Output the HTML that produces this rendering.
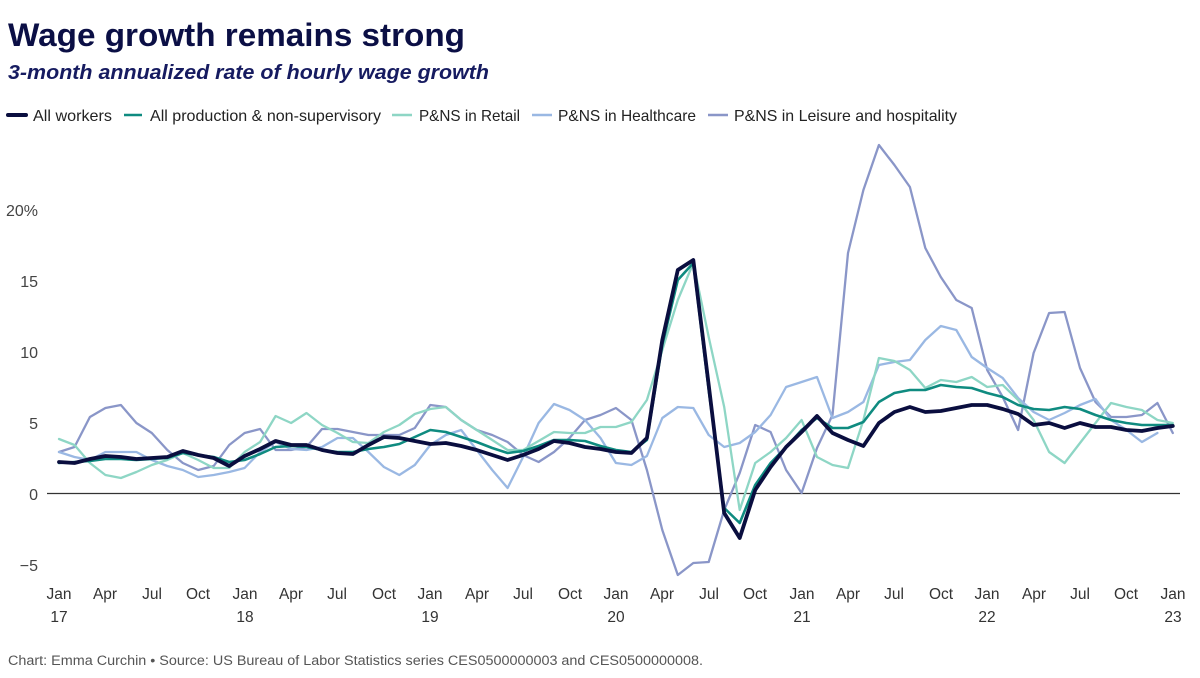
<!DOCTYPE html>
<html><head><meta charset="utf-8"><style>
html,body{margin:0;padding:0;background:#fff;}
svg{display:block;}
text{font-family:"Liberation Sans",Arial,sans-serif;}
</style></head><body>
<svg width="1200" height="678" viewBox="0 0 1200 678" xmlns="http://www.w3.org/2000/svg">
<rect width="1200" height="678" fill="#fff"/>
<text x="8" y="46" font-size="32" font-weight="bold" fill="#0b0f45" textLength="457" lengthAdjust="spacingAndGlyphs">Wage growth remains strong</text>
<text x="8" y="79" font-size="20" font-weight="bold" font-style="italic" fill="#161b60" textLength="481" lengthAdjust="spacingAndGlyphs">3-month annualized rate of hourly wage growth</text>

<g font-size="16" fill="#222">
<line x1="8" y1="115" x2="26" y2="115" stroke="#0a0e3f" stroke-width="4" stroke-linecap="round"/>
<text x="33" y="121" textLength="79" lengthAdjust="spacingAndGlyphs">All workers</text>
<line x1="124" y1="115" x2="142" y2="115" stroke="#0f8b80" stroke-width="2.5"/>
<text x="150" y="121" textLength="231" lengthAdjust="spacingAndGlyphs">All production &amp; non-supervisory</text>
<line x1="392" y1="115" x2="412" y2="115" stroke="#8ed6c5" stroke-width="2.5"/>
<text x="419" y="121" textLength="101" lengthAdjust="spacingAndGlyphs">P&amp;NS in Retail</text>
<line x1="532" y1="115" x2="552" y2="115" stroke="#9ab8e3" stroke-width="2.5"/>
<text x="558" y="121" textLength="138" lengthAdjust="spacingAndGlyphs">P&amp;NS in Healthcare</text>
<line x1="708" y1="115" x2="728" y2="115" stroke="#8a96c8" stroke-width="2.5"/>
<text x="734" y="121" textLength="223" lengthAdjust="spacingAndGlyphs">P&amp;NS in Leisure and hospitality</text>
</g>

<g font-size="16" fill="#444" text-anchor="end">
<text x="38" y="216">20%</text>
<text x="38" y="287">15</text>
<text x="38" y="358">10</text>
<text x="38" y="429">5</text>
<text x="38" y="500">0</text>
<text x="38" y="571">−5</text>
</g>

<line x1="47" y1="493.5" x2="1180" y2="493.5" stroke="#333" stroke-width="1.2"/>

<g font-size="15.5" fill="#333" text-anchor="middle">
<text x="59" y="599">Jan</text><text x="59" y="622">17</text>
<text x="105" y="599">Apr</text>
<text x="152" y="599">Jul</text>
<text x="198" y="599">Oct</text>
<text x="245" y="599">Jan</text><text x="245" y="622">18</text>
<text x="291" y="599">Apr</text>
<text x="337" y="599">Jul</text>
<text x="384" y="599">Oct</text>
<text x="430" y="599">Jan</text><text x="430" y="622">19</text>
<text x="477" y="599">Apr</text>
<text x="523" y="599">Jul</text>
<text x="570" y="599">Oct</text>
<text x="616" y="599">Jan</text><text x="616" y="622">20</text>
<text x="662" y="599">Apr</text>
<text x="709" y="599">Jul</text>
<text x="755" y="599">Oct</text>
<text x="802" y="599">Jan</text><text x="802" y="622">21</text>
<text x="848" y="599">Apr</text>
<text x="894" y="599">Jul</text>
<text x="941" y="599">Oct</text>
<text x="987" y="599">Jan</text><text x="987" y="622">22</text>
<text x="1034" y="599">Apr</text>
<text x="1080" y="599">Jul</text>
<text x="1126" y="599">Oct</text>
<text x="1173" y="599">Jan</text><text x="1173" y="622">23</text>
</g>

<g fill="none" stroke-linejoin="round" stroke-linecap="round">
<!-- Leisure -->
<polyline stroke="#8a96c8" stroke-width="2.3" points="59,452 74.5,447 89.9,417 105.4,408 120.9,405 136.4,423 151.8,433 167.3,450 182.8,463 198.2,470 213.7,466 229.2,445 244.6,433 260.1,429 275.6,450 291.1,450 306.5,447 322,429 337.5,429 352.9,432 368.4,435 383.9,435 399.3,435 414.8,428 430.3,405 445.8,407 461.2,420 476.7,430 492.2,435 507.6,442 523.1,455 538.6,462 554,452 569.5,438 585,420 600.5,415 615.9,408 631.4,420 646.9,470 662.3,530 677.8,575 693.3,563 708.7,562 724.2,510 739.7,473 755.2,425 770.6,432 786.1,470 801.6,493 817,448 832.5,415 848,253 863.4,190 878.9,145 894.4,165 909.9,187 925.3,248 940.8,277 956.3,300 971.7,308 987.2,370 1002.7,397 1018.1,430 1033.6,353 1049.1,313 1064.6,312 1080,368 1095.5,402 1111,417 1126.4,417 1141.9,415 1157.4,403 1172.8,433"/>
<!-- Healthcare -->
<polyline stroke="#9ab8e3" stroke-width="2.3" points="59,452 74.5,457 89.9,460 105.4,452 120.9,452 136.4,452 151.8,460 167.3,466 182.8,470 198.2,477 213.7,475 229.2,472 244.6,468 260.1,452 275.6,442 291.1,449 306.5,450 322,447 337.5,438 352.9,438 368.4,452 383.9,467 399.3,475 414.8,465 430.3,445 445.8,435 461.2,430 476.7,450 492.2,470 507.6,488 523.1,457 538.6,423 554,404 569.5,410 585,420 600.5,438 615.9,463 631.4,465 646.9,456 662.3,418 677.8,407 693.3,408 708.7,435 724.2,447 739.7,443 755.2,432 770.6,415 786.1,387 801.6,382 817,377 832.5,418 848,412 863.4,402 878.9,365 894.4,362 909.9,360 925.3,340 940.8,326 956.3,330 971.7,357 987.2,368 1002.7,378 1018.1,398 1033.6,412 1049.1,420 1064.6,413 1080,405 1095.5,399 1111,420 1126.4,430 1141.9,442 1157.4,433"/>
<!-- Retail -->
<polyline stroke="#8ed6c5" stroke-width="2.3" points="59,439 74.5,445 89.9,463 105.4,475 120.9,478 136.4,472 151.8,465 167.3,460 182.8,453 198.2,460 213.7,468 229.2,468 244.6,452 260.1,442 275.6,416 291.1,423 306.5,413 322,425 337.5,433 352.9,442 368.4,443 383.9,432 399.3,425 414.8,414 430.3,409 445.8,407 461.2,420 476.7,430 492.2,440 507.6,450 523.1,450 538.6,441 554,432 569.5,433 585,433 600.5,427 615.9,427 631.4,422 646.9,400 662.3,350 677.8,300 693.3,263 708.7,337 724.2,407 739.7,510 755.2,463 770.6,452 786.1,438 801.6,420 817,457 832.5,465 848,468 863.4,420 878.9,358 894.4,361 909.9,370 925.3,388 940.8,380 956.3,382 971.7,377 987.2,387 1002.7,385 1018.1,400 1033.6,420 1049.1,452 1064.6,463 1080,443 1095.5,423 1111,403 1126.4,407 1141.9,410 1157.4,420 1172.8,423"/>
<!-- Production -->
<polyline stroke="#0f8b80" stroke-width="2.6" points="59,463 74.5,462 89.9,461 105.4,459 120.9,459 136.4,460 151.8,459 167.3,458 182.8,453 198.2,455 213.7,457 229.2,462 244.6,460 260.1,454 275.6,447 291.1,446 306.5,447 322,450 337.5,452 352.9,452 368.4,449 383.9,447 399.3,444 414.8,437 430.3,430 445.8,432 461.2,437 476.7,442 492.2,448 507.6,453 523.1,451 538.6,446 554,440 569.5,440 585,441 600.5,446 615.9,450 631.4,452 646.9,440 662.3,345 677.8,280 693.3,263 708.7,390 724.2,508 739.7,523 755.2,485 770.6,463 786.1,447 801.6,430 817,418 832.5,428 848,428 863.4,422 878.9,402 894.4,393 909.9,390 925.3,390 940.8,385 956.3,387 971.7,388 987.2,393 1002.7,397 1018.1,405 1033.6,409 1049.1,410 1064.6,407 1080,409 1095.5,415 1111,420 1126.4,423 1141.9,425 1157.4,425 1172.8,425"/>
<!-- All workers -->
<polyline stroke="#0a0e3f" stroke-width="3.8" points="59,462 74.5,463 89.9,459 105.4,456 120.9,457 136.4,459 151.8,458 167.3,457 182.8,451 198.2,455 213.7,458 229.2,466 244.6,456 260.1,449 275.6,441 291.1,445 306.5,445 322,450 337.5,453 352.9,454 368.4,445 383.9,437 399.3,438 414.8,441 430.3,444 445.8,443 461.2,446 476.7,450 492.2,455 507.6,460 523.1,455 538.6,449 554,441 569.5,443 585,447 600.5,449 615.9,452 631.4,453 646.9,438 662.3,340 677.8,270 693.3,260 708.7,385 724.2,513 739.7,538 755.2,490 770.6,467 786.1,447 801.6,432 817,416 832.5,433 848,440 863.4,446 878.9,423 894.4,412 909.9,407 925.3,412 940.8,411 956.3,408 971.7,405 987.2,405 1002.7,409 1018.1,414 1033.6,425 1049.1,423 1064.6,428 1080,423 1095.5,427 1111,427 1126.4,430 1141.9,431 1157.4,428 1172.8,426"/>
</g>

<text x="8" y="665" font-size="13.5" fill="#555" textLength="695" lengthAdjust="spacingAndGlyphs">Chart: Emma Curchin • Source: US Bureau of Labor Statistics series CES0500000003 and CES0500000008.</text>
</svg>
</body></html>
